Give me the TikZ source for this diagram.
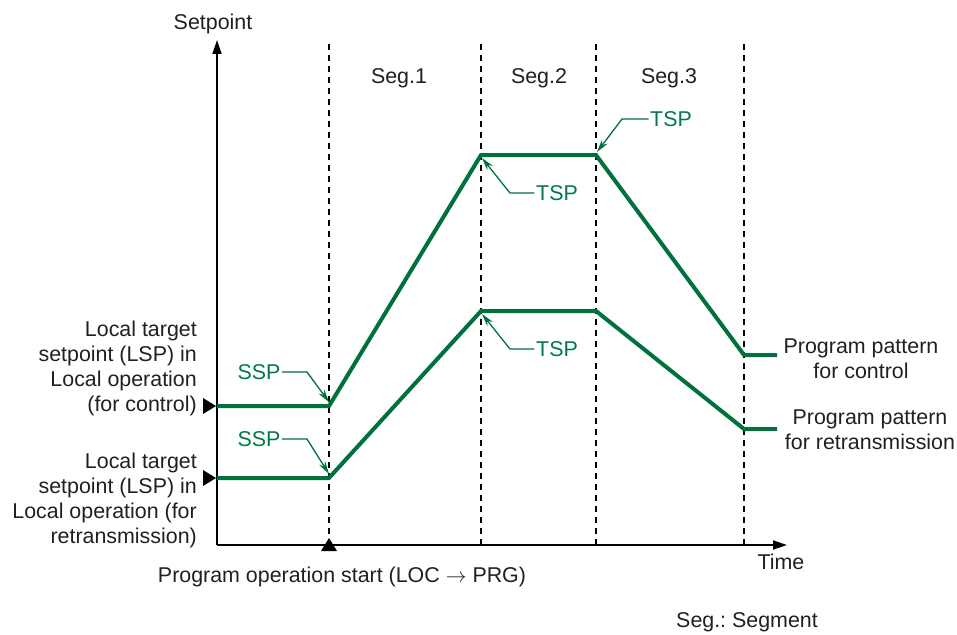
\documentclass[tikz,border=0pt]{standalone}
\usepackage{fontspec}
\setmainfont{Liberation Sans}
\usetikzlibrary{arrows.meta}
\definecolor{grn}{RGB}{0,112,60}
\definecolor{gtxt}{RGB}{0,122,72}
\definecolor{txt}{RGB}{35,31,32}
\frenchspacing
\begin{document}
\begin{tikzpicture}[x=1pt,y=-1pt,
  font=\fontsize{21.4}{25}\selectfont, text=txt,
  axis/.style={draw=black, line width=1.8pt, -{Triangle[length=14pt,width=9pt]}},
  segline/.style={draw=black, line width=1.3pt, dash pattern=on 6pt off 5pt},
  prog/.style={draw=grn, line width=4pt, line join=miter},
  lead/.style={draw=grn, line width=1.3pt, -{Stealth[length=13pt,width=7pt]}},
  glab/.style={text=gtxt, inner sep=1.5pt},
  lab/.style={inner sep=0pt}]
\useasboundingbox (0,0) rectangle (957,634);

% axes
\coordinate (O) at (217,545);
\coordinate (ytip) at (217,40);
\coordinate (xtip) at (787,545);
\draw[axis] (O) -- (ytip);
\draw[axis] (O) -- (xtip);
\node[lab] (ylab) at (213,24) {Setpoint};
\node[lab] (xlab) at (781,562) {Time};

% segment borders
\foreach \n/\x in {1/329,2/481,3/596,4/744}{
  \coordinate (d\n t) at (\x,44);
  \coordinate (d\n b) at (\x,545);
  \draw[segline] (d\n t) -- (d\n b);
}
\node[lab] (s1) at (399,78) {Seg.1};
\node[lab] (s2) at (539,78) {Seg.2};
\node[lab] (s3) at (669,78) {Seg.3};

% program pattern for control
\coordinate (a0) at (217,406);
\coordinate (a1) at (329,406);
\coordinate (a2) at (481,155);
\coordinate (a3) at (596,155);
\coordinate (a4) at (744,355);
\coordinate (a5) at (777,355);
\draw[prog] (a0) -- (a1) -- (a2) -- (a3) -- (a4) -- (a5);

% program pattern for retransmission
\coordinate (b0) at (217,478);
\coordinate (b1) at (329,478);
\coordinate (b2) at (481,311);
\coordinate (b3) at (596,311);
\coordinate (b4) at (744,429);
\coordinate (b5) at (777,429);
\draw[prog] (b0) -- (b1) -- (b2) -- (b3) -- (b4) -- (b5);

% markers
\coordinate (m1) at (216,406);
\coordinate (m2) at (216,478);
\coordinate (m3) at (329,538);
\fill[black] (m1) -- ++(-13,-8) -- ++(0,16) -- cycle;
\fill[black] (m2) -- ++(-13,-8) -- ++(0,16) -- cycle;
\fill[black] (m3) -- ++(-8,13) -- ++(16,0) -- cycle;

% labels with leaders
\node[glab] (tspA) at (671,119) {TSP};
\coordinate (tspAk) at (622,119);
\draw[lead] (tspA.west) -- (tspAk) -- (597,152);

\node[glab] (tspB) at (557,193) {TSP};
\coordinate (tspBk) at (510,193);
\draw[lead] (tspB.west) -- (tspBk) -- (482,158);

\node[glab] (tspC) at (557,349) {TSP};
\coordinate (tspCk) at (510,349);
\draw[lead] (tspC.west) -- (tspCk) -- (482,314);

\node[glab] (sspA) at (259,372) {SSP};
\coordinate (sspAk) at (307,372);
\draw[lead] (sspA.east) -- (sspAk) -- (329,402);

\node[glab] (sspB) at (259,439) {SSP};
\coordinate (sspBk) at (307,439);
\draw[lead] (sspB.east) -- (sspBk) -- (329,474);

% text labels
\node[lab, anchor=east, align=right] (lspc) at (197,368.5)
  {Local target\\setpoint (LSP) in\\Local operation\\(for control)};
\node[lab, anchor=east, align=right] (lspr) at (197,500.5)
  {Local target\\setpoint (LSP) in\\Local operation (for\\retransmission)};
\node[lab, align=center] (ppc) at (861,359) {Program pattern\\for control};
\node[lab, align=center] (ppr) at (870,430) {Program pattern\\for retransmission};
\node[lab] (start) at (342,577) {Program operation start (LOC \(\rightarrow\) PRG)};
\node[lab] (seg) at (747,622) {Seg.: Segment};
\end{tikzpicture}
\end{document}
